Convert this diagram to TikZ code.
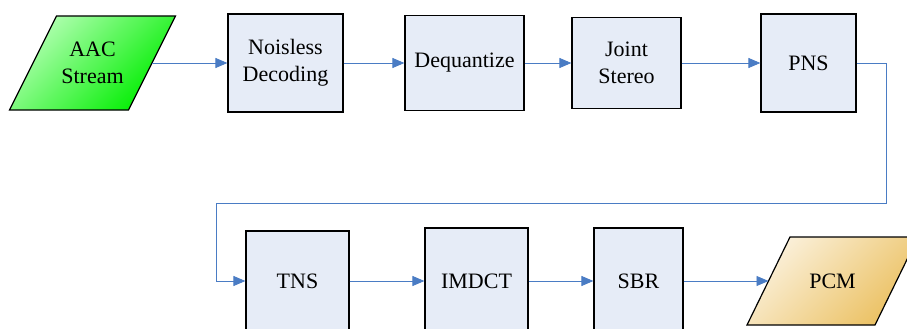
\documentclass[tikz,border=0pt]{standalone}
\usepackage{fontspec}
\setmainfont{Liberation Serif}
\usetikzlibrary{arrows.meta,backgrounds}
\definecolor{boxfill}{HTML}{E6ECF7}
\definecolor{flowblue}{HTML}{4A7CC4}
\definecolor{aacgreen}{HTML}{00EE00}
\definecolor{aacmid}{HTML}{30FF30}
\definecolor{aaclight}{HTML}{B4FFB4}
\definecolor{pcmgold}{HTML}{EBC060}
\definecolor{pcmlight}{HTML}{FBF1DC}
\tikzset{
  box/.style={draw, line width=1.2pt, fill=boxfill, inner sep=0pt, align=center,
    font=\fontsize{22}{27}\selectfont},
  io/.style={inner sep=0pt, outer sep=0pt, align=center, font=\fontsize{22}{27}\selectfont},
  ioshape/.style={line width=1.2pt},
  flow/.style={draw=flowblue, line width=0.9pt, -{Triangle[length=12pt,width=10pt]}}
}
\begin{document}
\begin{tikzpicture}[x=1pt, y=-1pt]
  \useasboundingbox (0,0) rectangle (907,329);
  \clip (0,0) rectangle (907,329);
  \node[io, minimum width=119pt, minimum height=94pt] (aac) at (92.5,63) {AAC\\Stream};
  \node[box, minimum width=115pt, minimum height=98pt] (noisless) at (285.5,63) {Noisless\\Decoding};
  \node[box, minimum width=119pt, minimum height=95pt] (dequant) at (464.5,63) {Dequantize};
  \node[box, minimum width=109pt, minimum height=91pt] (joint) at (626.5,63) {Joint\\Stereo};
  \node[box, minimum width=95pt, minimum height=98pt] (pns) at (808.5,63) {PNS};
  \node[box, minimum width=103pt, minimum height=100pt] (tns) at (297.5,281) {TNS};
  \node[box, minimum width=103pt, minimum height=106pt] (imdct) at (476.5,281) {IMDCT};
  \node[box, minimum width=89pt, minimum height=106pt] (sbr) at (638.5,281) {SBR};
  \node[io, minimum width=128pt, minimum height=88pt] (pcm) at (832.5,281) {PCM};
  \begin{pgfonlayer}{background}
    \shadedraw[ioshape, top color=aaclight, middle color=aacmid, bottom color=aacgreen, shading angle=45]
      ([xshift=-23.5pt]aac.south west) -- ([xshift=23.5pt]aac.north west)
      -- ([xshift=23.5pt]aac.north east) -- ([xshift=-23.5pt]aac.south east) -- cycle;
    \shadedraw[ioshape, top color=pcmlight, middle color=pcmgold!75!pcmlight, bottom color=pcmgold, shading angle=45]
      ([xshift=-21.5pt]pcm.south west) -- ([xshift=21.5pt]pcm.north west)
      -- ([xshift=21.5pt]pcm.north east) -- ([xshift=-21.5pt]pcm.south east) -- cycle;
  \end{pgfonlayer}
  \coordinate (loopr) at (886,203);
  \coordinate (loopl) at (216,203);
  \foreach \a/\b in {aac/noisless, noisless/dequant, dequant/joint, joint/pns,
    tns/imdct, imdct/sbr, sbr/pcm}
    \draw[flow] (\a) -- (\b);
  \draw[flow] (pns.east) -| (loopr) -- (loopl) |- (tns.west);
\end{tikzpicture}
\end{document}
